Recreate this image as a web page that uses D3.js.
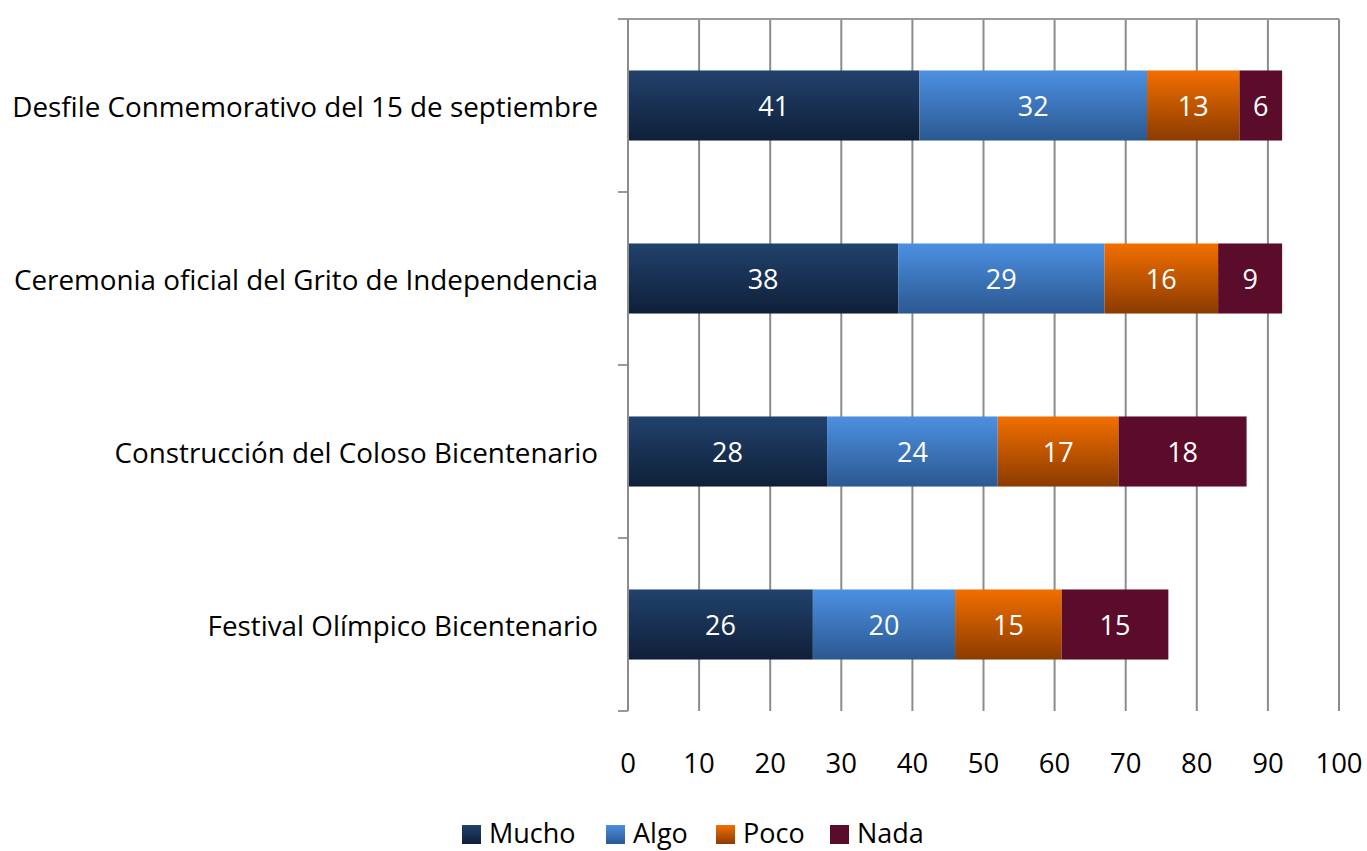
<!DOCTYPE html>
<html><head><meta charset="utf-8">
<script src="https://cdn.jsdelivr.net/npm/d3@7"></script>
<style>body{margin:0;background:#fff}svg{display:block}text{font-family:"Open Sans","Noto Sans",sans-serif}</style>
</head><body>
<svg id="c" width="1367" height="851"></svg>
<script>
const categories = ["Desfile Conmemorativo del 15 de septiembre","Ceremonia oficial del Grito de Independencia","Construcción del Coloso Bicentenario","Festival Olímpico Bicentenario"];
const seriesNames = ["Mucho","Algo","Poco","Nada"];
const mucho = [41,38,28,26];
const algo = [32,29,24,20];
const poco = [13,16,17,15];
const nada = [6,9,18,15];
const xTicks = [0,10,20,30,40,50,60,70,80,90,100];

const seriesValues = [mucho, algo, poco, nada];
const grads = [["#21426c","#0f1f39"],["#4c90e2","#2b5890"],["#f26f00","#8b3b00"],["#5a0c2a","#5a0c2a"]];

const svg = d3.select("#c");
const defs = svg.append("defs");
grads.forEach((g,i)=>{
  const lg = defs.append("linearGradient").attr("id","g"+i).attr("x1",0).attr("x2",0).attr("y1",0).attr("y2",1);
  lg.append("stop").attr("offset","0%").attr("stop-color",g[0]);
  lg.append("stop").attr("offset","100%").attr("stop-color",g[1]);
});

const pLeft = 628, pRight = 1339, pTop = 19, pBottom = 711;
const x = d3.scaleLinear().domain([0,100]).range([pLeft,pRight]);
const y = d3.scaleBand().domain(categories).range([pTop,pBottom]).paddingInner(0.595).paddingOuter(0.2975);

// gridlines
svg.append("g").selectAll("line").data(xTicks).join("line")
  .attr("x1",d=>x(d)).attr("x2",d=>x(d)).attr("y1",pTop).attr("y2",pBottom)
  .attr("stroke","#8c8c8c").attr("stroke-width",2);
// top axis line
svg.append("line").attr("x1",pLeft-10).attr("x2",pRight).attr("y1",pTop).attr("y2",pTop).attr("stroke","#9a9a9a").attr("stroke-width",2);
// category ticks
const step = (pBottom-pTop)/categories.length;
svg.append("g").selectAll("line").data(d3.range(categories.length+1)).join("line")
  .attr("x1",pLeft-10).attr("x2",pLeft).attr("y1",d=>pTop+d*step).attr("y2",d=>pTop+d*step)
  .attr("stroke","#9a9a9a").attr("stroke-width",2);

// stacked bars
const rows = categories.map((c,i)=>{const o={cat:c}; seriesNames.forEach((s,j)=>o[s]=seriesValues[j][i]); return o;});
const stack = d3.stack().keys(seriesNames)(rows);
stack.forEach((layer,j)=>{
  const g = svg.append("g");
  g.selectAll("rect").data(layer).join("rect")
    .attr("x",d=>x(d[0])).attr("width",d=>x(d[1])-x(d[0]))
    .attr("y",d=>y(d.data.cat)).attr("height",y.bandwidth())
    .attr("fill","url(#g"+j+")");
  g.selectAll("text").data(layer).join("text")
    .attr("x",d=>(x(d[0])+x(d[1]))/2).attr("y",d=>y(d.data.cat)+y.bandwidth()/2)
    .attr("text-anchor","middle").attr("dominant-baseline","central")
    .attr("fill","#fff").attr("font-size",27).text(d=>d[1]-d[0]);
});
// left axis line
svg.append("line").attr("x1",pLeft).attr("x2",pLeft).attr("y1",pTop).attr("y2",pBottom).attr("stroke","#8c8c8c").attr("stroke-width",2);

// category labels
svg.append("g").selectAll("text").data(categories).join("text")
  .attr("x",598).attr("y",d=>y(d)+y.bandwidth()/2)
  .attr("text-anchor","end").attr("dominant-baseline","central")
  .attr("font-size",27.8).attr("fill","#000").text(d=>d);

// x tick labels
svg.append("g").selectAll("text").data(xTicks).join("text")
  .attr("x",d=>x(d)).attr("y",762).attr("text-anchor","middle").attr("dominant-baseline","central")
  .attr("font-size",27.5).attr("fill","#000").text(d=>d);

// legend
const legendX = [462,606,716,830];
const lg = svg.append("g");
seriesNames.forEach((s,i)=>{
  lg.append("rect").attr("x",legendX[i]).attr("y",825).attr("width",19).attr("height",19).attr("fill","url(#g"+i+")");
  lg.append("text").attr("x",legendX[i]+27).attr("y",832).attr("dominant-baseline","central")
    .attr("font-size",27).attr("fill","#000").text(s);
});
</script>
</body></html>
